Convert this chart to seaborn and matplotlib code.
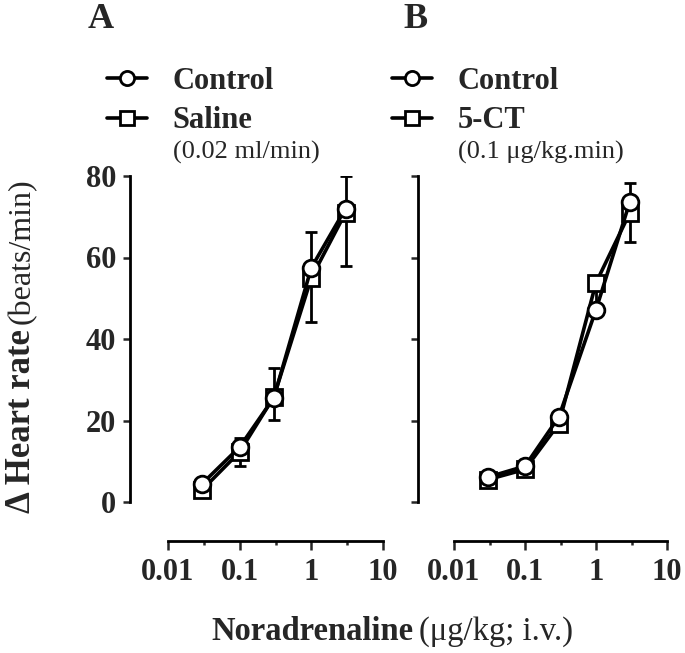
import numpy as np
import pandas as pd
import matplotlib
matplotlib.use("Agg")
import matplotlib.pyplot as plt
from matplotlib.lines import Line2D
from matplotlib.ticker import FixedLocator, NullFormatter
import seaborn as sns

# ---- data ----
doses = [0.03, 0.1, 0.3, 1, 3]
A_control = [4.5, 13.5, 25.6, 57.5, 72.0]
A_control_err = [0.8, 2.2, 7.4, 8.8, 8.0]     # drawn upward
A_saline = [3.0, 12.3, 25.8, 55.0, 71.0]
A_saline_err = [0.8, 3.5, 5.7, 10.8, 13.0]    # drawn downward
B_control = [6.1, 8.8, 20.9, 47.2, 73.7]
B_control_err = [0.8, 1.0, 1.5, 6.6, 4.7]
B_5ct = [5.5, 8.0, 19.2, 53.8, 71.0]
B_5ct_err = [0.8, 1.0, 1.0, 1.5, 7.1]
x_ticks = [0.01, 0.1, 1, 10]
x_tick_labels = ["0.01", "0.1", "1", "10"]
y_ticks = [0, 20, 40, 60, 80]

sns.set_style("white")
plt.rcParams['font.family'] = ['Liberation Serif', 'DejaVu Serif']

W, H = 685, 653
fig = plt.figure(figsize=(W / 100, H / 100), dpi=100)

def fx(px):
    return px / W

def fy(py):
    return 1 - py / H

LW = 2.6
MS = 12
MEW = 2.0

def make_panel(left_px, right_px, left_off_px, ctrl, ctrl_err, trt, trt_err, trt_name, show_ylabels):
    ax = fig.add_axes([fx(left_px), fy(502), (right_px - left_px) / W, (502 - 176) / H])
    ax.set_xscale('log')
    df = pd.DataFrame({
        'dose': doses * 2,
        'value': list(trt) + list(ctrl),
        'group': [trt_name] * len(doses) + ['Control'] * len(doses),
    })
    # error bars (treatment downward, control upward)
    ax.errorbar(doses, trt, yerr=[trt_err, np.zeros(len(doses))], fmt='none',
                ecolor='black', elinewidth=2.0, capsize=4, capthick=2.0, zorder=1.5)
    ax.errorbar(doses, ctrl, yerr=[np.zeros(len(doses)), ctrl_err], fmt='none',
                ecolor='black', elinewidth=2.0, capsize=4, capthick=2.0, zorder=1.5)
    sns.lineplot(data=df, x='dose', y='value', hue='group', style='group',
                 hue_order=[trt_name, 'Control'], style_order=[trt_name, 'Control'],
                 palette={trt_name: 'black', 'Control': 'black'},
                 markers={trt_name: 's', 'Control': 'o'}, dashes=False,
                 linewidth=LW, markersize=MS, markerfacecolor='white',
                 markeredgecolor='black', markeredgewidth=MEW,
                 legend=False, ax=ax, zorder=2)
    ax.set_xlim(0.01, 10)
    ax.set_ylim(0, 80)
    ax.set_xlabel('')
    ax.set_ylabel('')
    sns.despine(ax=ax)
    ax.spines['left'].set_position(('outward', left_off_px * 0.72))
    ax.spines['bottom'].set_position(('outward', 39 * 0.72))
    for s in ['left', 'bottom']:
        ax.spines[s].set_linewidth(2.0)
        ax.spines[s].set_color('black')
    ax.xaxis.set_major_locator(FixedLocator(x_ticks))
    ax.set_xticklabels(x_tick_labels)
    ax.xaxis.set_minor_locator(FixedLocator([10 ** -1.5, 10 ** -0.5, 10 ** 0.5]))
    ax.xaxis.set_minor_formatter(NullFormatter())
    ax.set_yticks(y_ticks)
    ax.tick_params(axis='x', which='major', direction='out', length=6.5, width=1.8,
                   pad=6, labelsize=22, bottom=True)
    ax.tick_params(axis='x', which='minor', direction='out', length=3.2, width=1.8, bottom=True)
    ax.tick_params(axis='y', which='major', direction='out', length=5, width=1.8,
                   pad=5, labelsize=22, left=True, labelleft=show_ylabels)
    for lab in ax.get_xticklabels() + ax.get_yticklabels():
        lab.set_fontweight('bold')
    return ax

axA = make_panel(168, 383, 38, A_control, A_control_err, A_saline, A_saline_err, 'Saline', True)
axB = make_panel(454, 667, 36, B_control, B_control_err, B_5ct, B_5ct_err, '5-CT', False)

# panel letters
fig.text(fx(101), fy(20), 'A', fontsize=26, fontweight='bold', ha='center', va='center')
fig.text(fx(415), fy(20), 'B', fontsize=26, fontweight='bold', ha='center', va='center')

# legends
def make_legend(x_px, labels):
    handles = [
        Line2D([], [], color='black', lw=LW, marker='o', ms=MS * 0.85, mfc='white', mec='black', mew=MEW),
        Line2D([], [], color='black', lw=LW, marker='s', ms=MS * 0.85, mfc='white', mec='black', mew=MEW),
    ]
    leg = fig.legend(handles, labels, loc='center left', bbox_to_anchor=(fx(x_px), fy(101)),
                     bbox_transform=fig.transFigure, frameon=False, borderpad=0,
                     borderaxespad=0, handlelength=1.3, handletextpad=0.85,
                     labelspacing=0.35, prop={'family': 'Liberation Serif', 'weight': 'bold', 'size': 22})
    return leg

make_legend(107, ['Control', 'Saline'])
make_legend(392, ['Control', '5-CT'])
fig.text(fx(173), fy(152), '(0.02 ml/min)', fontsize=19, ha='left', va='center')
fig.text(fx(458), fy(152), '(0.1 \u03bcg/kg.min)', fontsize=19, ha='left', va='center')

# y label (bold + normal parts)
fig.text(fx(22), fy(513), '\u0394 Heart rate', rotation=90, fontsize=25, fontweight='bold',
         ha='center', va='bottom')
fig.text(fx(22), fy(324), '(beats/min)', rotation=90, fontsize=23,
         ha='center', va='bottom')

# x label
fig.text(fx(414), fy(632), 'Noradrenaline', fontsize=23.5, fontweight='bold', ha='right', va='center')
fig.text(fx(419), fy(632), '(\u03bcg/kg; i.v.)', fontsize=23.5, ha='left', va='center')

fig.savefig('out.png', dpi=100)
